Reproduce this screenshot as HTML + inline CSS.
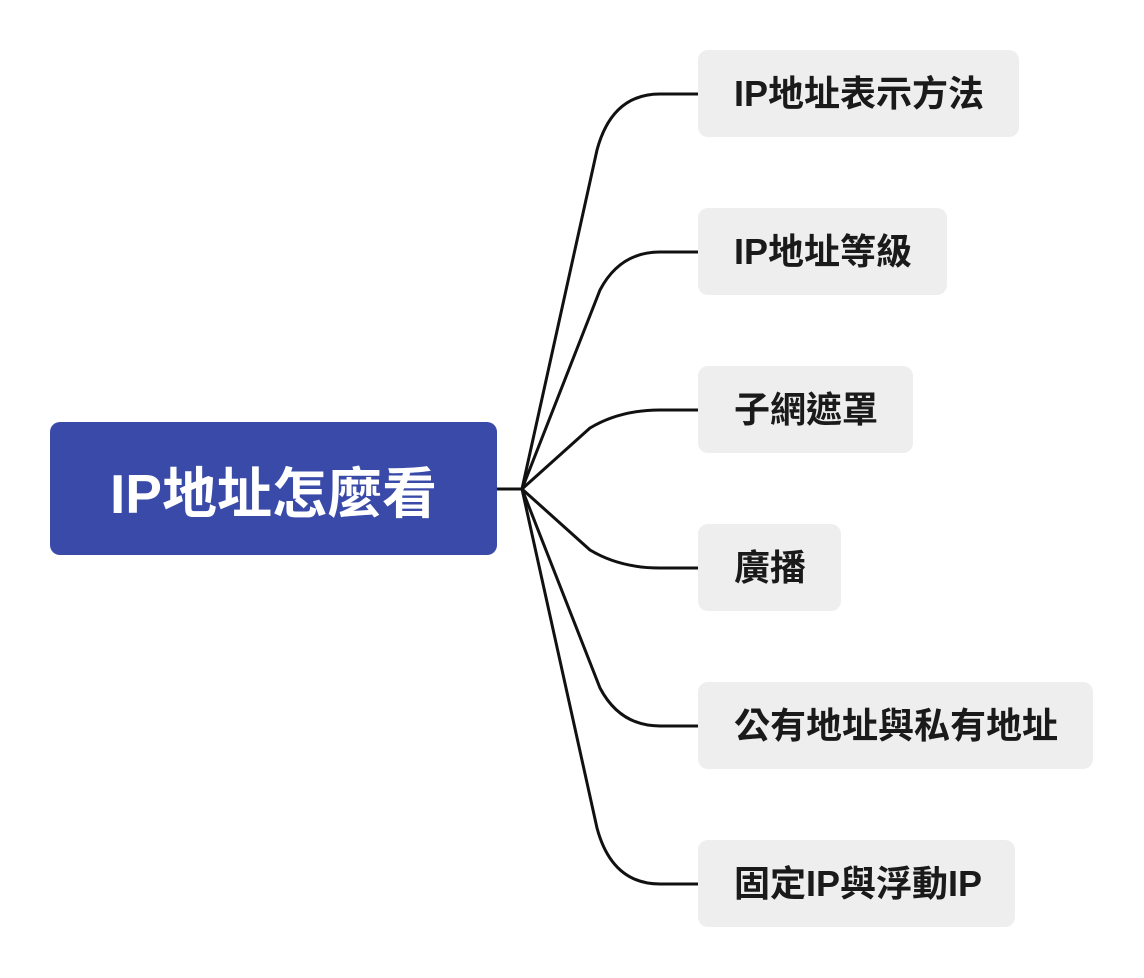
<!DOCTYPE html>
<html><head><meta charset="utf-8"><style>
html,body{margin:0;padding:0;background:#fff;}
body{width:1144px;height:978px;position:relative;overflow:hidden;font-family:"Liberation Sans","Noto Sans CJK TC",sans-serif;}
.c{position:absolute;left:50px;top:422px;width:447px;height:133px;background:#3a4aa9;border-radius:10px;color:#fff;font-weight:bold;font-size:55px;display:flex;align-items:center;justify-content:center;}
.n{position:absolute;left:698px;height:87px;background:#eeeeee;border-radius:10px;color:#1a1a1a;font-weight:bold;font-size:36px;line-height:87px;padding-left:36px;box-sizing:border-box;white-space:nowrap;}
svg{position:absolute;left:0;top:0;}
</style></head><body>
<svg width="1144" height="978">
<g fill="none" stroke="#111" stroke-width="3">
<path d="M497 489 L522 489"/>
<path d="M522 489 L597 150 Q612 94 660 94 L698 94"/>
<path d="M522 489 L600 290 Q620 252 660 252 L698 252"/>
<path d="M522 489 L590 428 Q620 410 660 410 L698 410"/>
<path d="M522 489 L590 550 Q620 568 660 568 L698 568"/>
<path d="M522 489 L600 688 Q620 726 660 726 L698 726"/>
<path d="M522 489 L597 828 Q612 884 660 884 L698 884"/>
</g>
</svg>
<div class="c">IP地址怎麼看</div>
<div class="n" style="top:50px;width:321px">IP地址表示方法</div>
<div class="n" style="top:208px;width:249px">IP地址等級</div>
<div class="n" style="top:366px;width:215px">子網遮罩</div>
<div class="n" style="top:524px;width:143px">廣播</div>
<div class="n" style="top:682px;width:395px">公有地址與私有地址</div>
<div class="n" style="top:840px;width:317px">固定IP與浮動IP</div>
</body></html>
